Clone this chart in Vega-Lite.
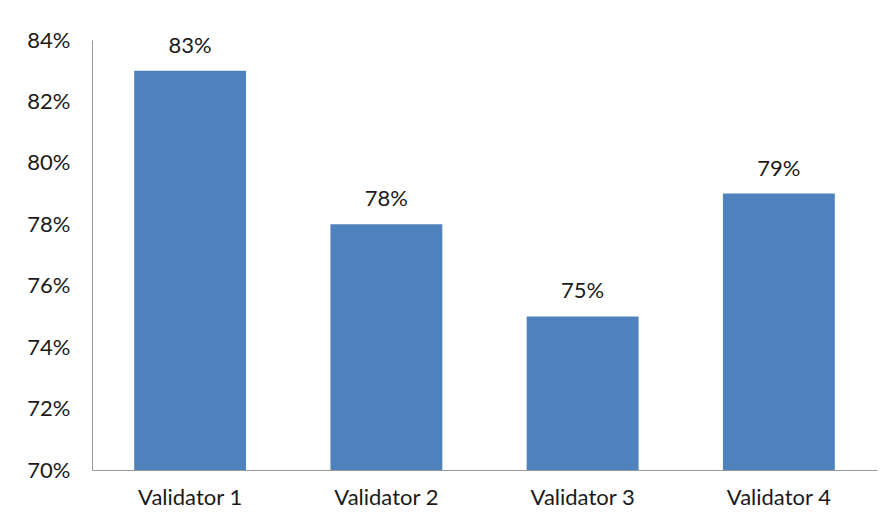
{
  "$schema": "https://vega.github.io/schema/vega-lite/v6.json",
  "autosize": {"type": "none"},
  "padding": {"left": 92, "top": 40, "right": 11, "bottom": 51},
  "width": 785,
  "height": 430,
  "background": "white",
  "config": {
    "view": {"stroke": null},
    "font": "Lato"
  },
  "data": {
    "values": [
      {"validator": "Validator 1", "value": 0.83},
      {"validator": "Validator 2", "value": 0.78},
      {"validator": "Validator 3", "value": 0.75},
      {"validator": "Validator 4", "value": 0.79}
    ]
  },
  "encoding": {
    "x": {
      "field": "validator",
      "type": "nominal",
      "sort": null,
      "scale": {"paddingInner": 0.43, "paddingOuter": 0.215},
      "axis": {
        "title": null,
        "labelAngle": 0,
        "ticks": false,
        "domainColor": "#999999",
        "labelFont": "Lato",
        "labelFontSize": 22,
        "labelColor": "#1a1a1a",
        "labelPadding": 17
      }
    },
    "y": {
      "field": "value",
      "type": "quantitative",
      "scale": {"domain": [0.70, 0.84], "zero": false, "nice": false},
      "axis": {
        "title": null,
        "format": ".0%",
        "values": [0.70, 0.72, 0.74, 0.76, 0.78, 0.80, 0.82, 0.84],
        "grid": false,
        "ticks": false,
        "domainColor": "#999999",
        "labelFont": "Lato",
        "labelFontSize": 22,
        "labelColor": "#1a1a1a",
        "labelPadding": 22
      }
    }
  },
  "layer": [
    {
      "mark": {"type": "bar", "color": "#4F81BD"},
      "encoding": {"y2": {"datum": 0.70}}
    },
    {
      "mark": {"type": "text", "baseline": "bottom", "dy": -13, "fontSize": 22, "font": "Lato", "color": "#1a1a1a"},
      "encoding": {"text": {"field": "value", "type": "quantitative", "format": ".0%"}}
    }
  ]
}
